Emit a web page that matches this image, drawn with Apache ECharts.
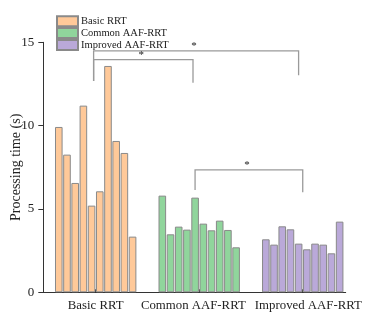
<!DOCTYPE html>
<html>
<head>
<meta charset="utf-8">
<script src="https://cdn.jsdelivr.net/npm/echarts@6/dist/echarts.min.js"></script>
<style>
  html, body { margin: 0; padding: 0; background: #fff; }
  #main { width: 369px; height: 313px; }
</style>
</head>
<body>
<div id="main"></div>
<script>
// group names on the x axis
var groups = ['Basic RRT', 'Common AAF-RRT', 'Improved AAF-RRT'];
// processing time (s) of the 10 runs per method
var basicRRT = [9.92, 8.26, 6.56, 11.2, 5.2, 6.06, 13.58, 9.08, 8.36, 3.34];
var commonAAF = [5.8, 3.48, 3.94, 3.76, 5.68, 4.12, 3.72, 4.3, 3.74, 2.7];
var improvedAAF = [3.18, 2.86, 3.96, 3.78, 2.92, 2.58, 2.92, 2.86, 2.34, 4.24];
var yTicks = [0, 5, 10, 15];
// significance brackets: [from group, to group, top, left leg end, right leg end]
var brackets = [
    [-0.02, 1.96, 14.48, 12.68, 13.02],
    [-0.02, 0.94, 13.96, 12.68, 12.58],
    [0.96, 2.0, 7.34, 6.14, 6.0]
];

var colors = ['#FFC999', '#90D59C', '#BAA9D9'];
var serif = "'Liberation Serif', 'DejaVu Serif', serif";
var step = 0.0792; // bar spacing, in group units

function $each(arr, fn) {
    for (var i = 0; i < arr.length; i++) fn(arr[i], i);
}
// 10 bars side by side around the group's position
function barData(values, g) {
    var out = [];
    $each(values, function (v, i) {
        out.push([g + (i - (values.length - 1) / 2) * step, v]);
    });
    return out;
}

var myChart = echarts.init(document.getElementById('main'));

var series = [];
$each([basicRRT, commonAAF, improvedAAF], function (vals, g) {
    series.push({
        name: groups[g],
        type: 'bar',
        barWidth: 7.6,
        barGap: '-100%',
        data: barData(vals, g),
        itemStyle: { color: colors[g], borderColor: '#8a8a8a', borderWidth: 1 },
        emphasis: { disabled: true }
    });
});
series.push({
    type: 'custom',
    silent: true,
    z: 5,
    data: brackets,
    renderItem: function (params, api) {
        var a = api.coord([api.value(0), api.value(3)]);
        var b = api.coord([api.value(0), api.value(2)]);
        var c = api.coord([api.value(1), api.value(2)]);
        var d = api.coord([api.value(1), api.value(4)]);
        return {
            type: 'group',
            children: [{
                type: 'polyline',
                shape: { points: [a, b, c, d] },
                style: { stroke: '#9a9a9a', lineWidth: 1.3, fill: null }
            }, {
                type: 'text',
                x: (b[0] + c[0]) / 2 - 2,
                y: b[1] + 1,
                style: {
                    text: '*', fill: '#222', font: '11px ' + serif,
                    align: 'center', verticalAlign: 'bottom'
                }
            }]
        };
    }
});

var option = {
    animation: false,
    grid: { left: 43.3, right: 23.3, top: 42.3, bottom: 20.7, outerBoundsMode: 'none' },
    legend: {
        data: groups,
        orient: 'vertical',
        left: 51,
        top: 10.3,
        itemWidth: 21,
        itemHeight: 10,
        itemGap: -0.2,
        icon: 'rect',
        textStyle: { fontFamily: serif, fontSize: 10.5, color: '#222', padding: [0, 0, 0, -2] },
        selectedMode: false
    },
    xAxis: {
        type: 'value',
        min: -0.506,
        max: 2.415,
        splitLine: { show: false },
        axisLine: { onZero: false, lineStyle: { color: '#333', width: 1 } },
        axisTick: { customValues: [0, 1, 2], inside: true, length: 3, lineStyle: { color: '#333' } },
        axisLabel: {
            // label centres sit a little off the ticks in the original
            customValues: [0, 0.943, 2.054],
            hideOverlap: false,
            formatter: function (v) { return groups[Math.round(v)]; },
            fontFamily: serif, fontSize: 12.8, color: '#222', margin: 7
        }
    },
    yAxis: {
        type: 'value',
        min: yTicks[0],
        max: yTicks[yTicks.length - 1],
        interval: 5,
        name: 'Processing time (s)',
        nameLocation: 'middle',
        nameGap: 20,
        nameMoveOverlap: false,
        nameTextStyle: { fontFamily: serif, fontSize: 14, color: '#222' },
        splitLine: { show: false },
        axisLine: { show: true, onZero: false, lineStyle: { color: '#333', width: 1 } },
        axisTick: { show: true, length: 5, lineStyle: { color: '#333' } },
        axisLabel: { fontFamily: serif, fontSize: 13, color: '#222', margin: 9 }
    },
    series: series
};
myChart.setOption(option);
window.addEventListener('resize', function () {
    myChart.resize();
});
</script>
</body>
</html>
